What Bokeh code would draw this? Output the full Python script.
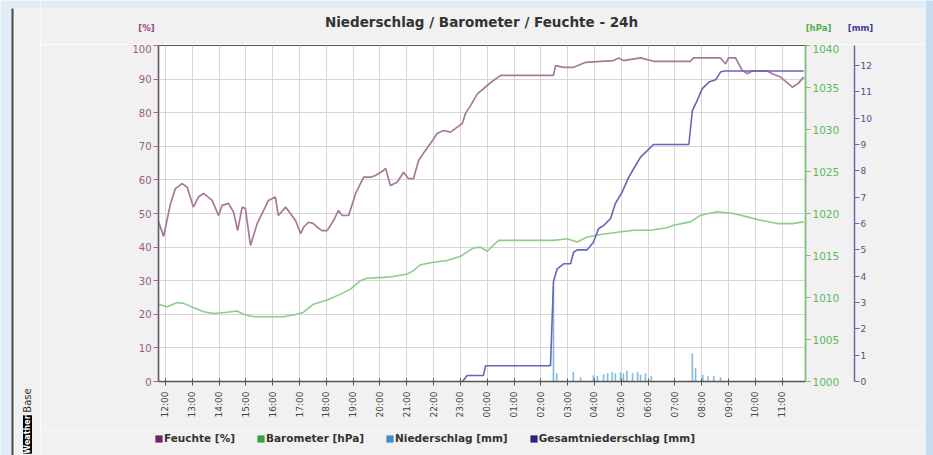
import math
from bokeh.plotting import figure
from bokeh.layouts import row, column
from bokeh.models import (Range1d, LinearAxis, FixedTicker, Label, Legend,
                          LegendItem, BoxAnnotation)
from bokeh.embed import file_html
from bokeh.resources import INLINE

# ---------------- data (x in hours after 12:00 of day 1) ----------------
hour_labels = ["12:00", "13:00", "14:00", "15:00", "16:00", "17:00", "18:00",
               "19:00", "20:00", "21:00", "22:00", "23:00", "00:00", "01:00",
               "02:00", "03:00", "04:00", "05:00", "06:00", "07:00", "08:00",
               "09:00", "10:00", "11:00"]
hour_ticks = list(range(24))

feuchte_t = [-0.26, -0.07, 0.19, 0.37, 0.62, 0.81, 1.04, 1.23, 1.42, 1.74,
             1.98, 2.11, 2.35, 2.54, 2.69, 2.86, 2.98, 3.17, 3.42, 3.66,
             3.84, 4.10, 4.21, 4.48, 4.66, 4.85, 5.04, 5.15, 5.33, 5.52,
             5.66, 5.84, 6.03, 6.27, 6.45, 6.59, 6.83, 7.09, 7.39, 7.65,
             7.83, 8.13, 8.21, 8.39, 8.64, 8.88, 9.06, 9.25, 9.44, 9.62,
             9.88, 10.13, 10.37, 10.63, 10.88, 11.07, 11.19, 11.38, 11.63, 12.00,
             12.23, 12.50, 14.47, 14.55, 14.85, 15.22, 15.67, 16.71, 16.90, 17.08,
             17.72, 18.20, 19.58, 19.69, 20.70, 20.89, 21.00, 21.26, 21.51, 21.70,
             21.88, 22.44, 22.63, 22.94, 23.38, 23.61, 23.80]
feuchte_v = [47.5, 43.2, 53.0, 57.4, 58.9, 57.8, 51.9, 54.9, 56.0, 53.9,
             49.4, 52.4, 53.0, 50.4, 44.9, 51.9, 51.5, 40.5, 47.0, 50.9,
             53.9, 54.9, 49.4, 51.9, 50.0, 47.9, 44.0, 45.9, 47.4, 47.0,
             45.9, 44.9, 44.9, 47.9, 50.9, 49.4, 49.4, 55.9, 60.8, 60.8,
             61.3, 62.8, 63.4, 58.3, 59.3, 62.3, 60.4, 60.4, 65.8, 67.9,
             70.8, 73.8, 74.7, 74.2, 75.7, 76.8, 79.8, 82.1, 85.6, 88.1,
             89.6, 91.1, 91.1, 94.0, 93.5, 93.5, 95.0, 95.5, 96.3, 95.5,
             96.3, 95.3, 95.3, 96.3, 96.3, 94.5, 96.3, 96.3, 92.6, 91.6,
             92.4, 92.4, 91.6, 90.6, 87.6, 88.8, 90.6]

baro_t = [-0.26, 0.06, 0.44, 0.67, 1.04, 1.42, 1.79, 2.30, 2.67, 2.91,
          3.28, 4.40, 4.91, 5.15, 5.52, 6.03, 6.53, 6.90, 7.27, 7.52,
          8.13, 8.50, 9.02, 9.25, 9.51, 10.00, 10.51, 11.00, 11.49, 11.75,
          12.00, 12.42, 14.47, 14.98, 15.35, 15.73, 16.23, 16.71, 17.46, 18.09,
          18.71, 18.95, 19.58, 19.96, 20.58, 21.19, 21.70, 22.19, 22.82, 23.42,
          23.80]
baro_v = [1009.2, 1008.9, 1009.4, 1009.3, 1008.8, 1008.3, 1008.1, 1008.25, 1008.4, 1008.0,
          1007.7, 1007.7, 1008.0, 1008.25, 1009.2, 1009.7, 1010.4, 1011.0, 1012.0, 1012.3,
          1012.4, 1012.5, 1012.8, 1013.2, 1013.9, 1014.2, 1014.4, 1014.9, 1015.9, 1016.0,
          1015.5, 1016.8, 1016.8, 1017.0, 1016.6, 1017.2, 1017.5, 1017.7, 1018.0, 1018.0,
          1018.3, 1018.6, 1019.0, 1019.8, 1020.2, 1020.0, 1019.6, 1019.2, 1018.8, 1018.8,
          1019.0]

nied_t = [14.47, 14.59, 15.21, 15.48, 15.96, 16.11, 16.34, 16.49, 16.66, 16.78,
          16.97, 17.08, 17.21, 17.42, 17.61, 17.72, 17.90, 18.12, 19.65, 19.77,
          20.04, 20.23, 20.45, 20.70]
nied_v = [3.6, 0.3, 0.35, 0.15, 0.23, 0.2, 0.26, 0.3, 0.35, 0.3,
          0.35, 0.3, 0.4, 0.3, 0.35, 0.25, 0.3, 0.2, 1.06, 0.5,
          0.25, 0.2, 0.2, 0.15]

gesamt_t = [11.08, 11.25, 11.86, 11.94, 14.36, 14.47, 14.61, 14.85, 15.11, 15.22,
            15.36, 15.73, 15.96, 16.15, 16.34, 16.60, 16.78, 17.03, 17.28, 17.46,
            17.72, 17.97, 18.20, 19.52, 19.65, 19.83, 20.02, 20.27, 20.52, 20.70,
            20.83, 23.80]
gesamt_v = [0.0, 0.23, 0.23, 0.6, 0.6, 3.8, 4.28, 4.47, 4.47, 4.91,
            5.0, 5.0, 5.29, 5.8, 5.92, 6.19, 6.76, 7.19, 7.76, 8.08,
            8.52, 8.77, 9.0, 9.0, 10.29, 10.67, 11.12, 11.37, 11.46, 11.75,
            11.79, 11.79]

pct_ticks = list(range(0, 101, 10))
hpa_ticks = list(range(1000, 1041, 5))
mm_ticks = list(range(0, 13))

legend_labels = ["Feuchte [%]", "Barometer [hPa]", "Niederschlag [mm]",
                 "Gesamtniederschlag [mm]"]
legend_colors = ["#6e2466", "#3f9f3f", "#3d8dcc", "#26267f"]

title_text = "Niederschlag / Barometer / Feuchte - 24h"
unit_texts = ["[%]", "[hPa]", "[mm]"]

# ---------------- styling ----------------
FONT = "DejaVu Sans"
BG = "#f1f1f1"
EDGE = "#e2ecf6"
C_FEU = "#a8789a"
C_BAR = "#8ccc8c"
C_NIE = "#80b8e0"
C_GES = "#6666b8"


def blank(width, height, xr, yr, bg=BG):
    f = figure(width=width, height=height, output_backend="svg",
               toolbar_location=None, x_axis_type=None, y_axis_type=None,
               x_range=Range1d(*xr), y_range=Range1d(*yr), min_border=0,
               title=None)
    f.outline_line_color = None
    f.background_fill_color = bg
    f.border_fill_color = bg
    return f


# ---- left strip (page edge, "Base" logo) ----
strip = blank(40, 455, (0, 40), (455, 0))
strip.add_layout(BoxAnnotation(left=0, right=11, fill_color=EDGE,
                               fill_alpha=1, line_color=None))
strip.add_layout(BoxAnnotation(top=0, bottom=7, fill_color=EDGE,
                               fill_alpha=1, line_color=None))
strip.add_layout(BoxAnnotation(left=11, right=13, top=8, bottom=455,
                               fill_color="#4a4a4a", fill_alpha=1,
                               line_color=None))
strip.add_layout(Label(x=27, y=400, text="Base", angle=math.pi / 2,
                       text_align="center", text_baseline="middle",
                       text_font=FONT, text_font_size="10px",
                       text_color="#333333"))
strip.add_layout(Label(x=27, y=434, text="Weather", angle=math.pi / 2,
                       text_align="center", text_baseline="middle",
                       text_font=FONT, text_font_size="8px",
                       text_font_style="bold", text_color="white",
                       background_fill_color="black", background_fill_alpha=1))

# ---- right strip (page edge) ----
rstrip = blank(8, 455, (0, 8), (455, 0), bg="#c8dcf0")

# ---- header: title and axis units ----
header = blank(885, 44, (40, 925), (44, 0))
header.add_layout(BoxAnnotation(top=0, bottom=7, fill_color=EDGE,
                                fill_alpha=1, line_color=None))
header.add_layout(Label(x=481, y=21, text=title_text, text_align="center",
                        text_baseline="middle", text_font=FONT,
                        text_font_style="bold", text_font_size="13.5px",
                        text_color="#333333"))
for txt, xx, col in zip(unit_texts, [146, 818, 860],
                        ["#a0407a", "#4fae4f", "#3c3c9c"]):
    header.add_layout(Label(x=xx, y=27, text=txt, text_align="center",
                            text_baseline="middle", text_font=FONT,
                            text_font_style="bold", text_font_size="8.5px",
                            text_color=col))

# ---- main chart ----
p = figure(width=885, height=386, output_backend="svg", toolbar_location=None,
           x_range=Range1d(-0.26, 23.87), y_range=Range1d(0, 100),
           min_border_left=118, min_border_right=120,
           min_border_top=1, min_border_bottom=49, title=None)
p.border_fill_color = BG
p.background_fill_color = "white"
p.outline_line_color = "#555555"
p.outline_line_width = 1.2

p.extra_y_ranges = {"hpa": Range1d(1000, 1040), "mm": Range1d(0, 12.76)}

p.xgrid.ticker = FixedTicker(ticks=hour_ticks)
p.ygrid.ticker = FixedTicker(ticks=pct_ticks)
p.xgrid.grid_line_color = "#d6d6d6"
p.ygrid.grid_line_color = "#d6d6d6"

xa = p.xaxis[0]
xa.ticker = FixedTicker(ticks=hour_ticks)
xa.major_label_overrides = {t: lab for t, lab in zip(hour_ticks, hour_labels)}
xa.major_label_orientation = math.pi / 2
xa.major_label_text_font = FONT
xa.major_label_text_font_size = "9px"
xa.major_label_text_color = "#444444"
xa.axis_line_color = "#555555"
xa.axis_line_width = 1.5
xa.major_tick_line_color = "#555555"
xa.major_tick_in = 3
xa.major_tick_out = 4
xa.minor_tick_line_color = None
xa.major_label_standoff = 6

ya = p.yaxis[0]
ya.ticker = FixedTicker(ticks=pct_ticks)
ya.major_label_text_font = FONT
ya.major_label_text_font_size = "10px"
ya.major_label_text_color = "#9a5a88"
ya.axis_line_color = "#6a5a66"
ya.axis_line_width = 1.5
ya.major_tick_line_color = "#a06a90"
ya.major_tick_in = 0
ya.major_tick_out = 5
ya.minor_tick_line_color = None
ya.major_label_standoff = 2

ax_hpa = LinearAxis(y_range_name="hpa", ticker=FixedTicker(ticks=hpa_ticks),
                    axis_label=" ", axis_label_standoff=0,
                    axis_label_text_font_size="8px")
ax_hpa.major_label_text_font = FONT
ax_hpa.major_label_text_font_size = "10.5px"
ax_hpa.major_label_text_color = "#5cb85c"
ax_hpa.axis_line_color = "#7cc07c"
ax_hpa.axis_line_width = 1.5
ax_hpa.major_tick_line_color = "#7cc07c"
ax_hpa.major_tick_in = 0
ax_hpa.major_tick_out = 5
ax_hpa.minor_tick_line_color = None
ax_hpa.major_label_standoff = 2
p.add_layout(ax_hpa, "right")

ax_mm = LinearAxis(y_range_name="mm", ticker=FixedTicker(ticks=mm_ticks))
ax_mm.major_label_text_font = FONT
ax_mm.major_label_text_font_size = "9px"
ax_mm.major_label_text_color = "#505088"
ax_mm.axis_line_color = "#6a6aaa"
ax_mm.axis_line_width = 1.5
ax_mm.major_tick_line_color = "#6a6aaa"
ax_mm.major_tick_in = 0
ax_mm.major_tick_out = 5
ax_mm.minor_tick_line_color = None
ax_mm.major_label_standoff = 1
p.add_layout(ax_mm, "right")

p.line(feuchte_t, feuchte_v, line_color=C_FEU, line_width=1.7)
p.line(baro_t, baro_v, y_range_name="hpa", line_color=C_BAR, line_width=1.6)
p.vbar(x=nied_t, top=nied_v, bottom=0, width=0.04, y_range_name="mm",
       fill_color=C_NIE, line_color=C_NIE, line_width=0.5)
p.line(gesamt_t, gesamt_v, y_range_name="mm", line_color=C_GES, line_width=1.6)

# ---- footer: legend (hidden one-row proxies give the colour swatches) ----
footer = blank(885, 25, (40, 925), (455, 430))
items = []
for lab, col in zip(legend_labels, legend_colors):
    r = footer.quad(left=[0], right=[1], top=[1], bottom=[0], fill_color=col,
                    line_color=None, visible=False)
    items.append(LegendItem(label=lab, renderers=[r]))
legend = Legend(items=items, orientation="horizontal", location=(114, 11),
                background_fill_alpha=0, border_line_color=None,
                label_text_font=FONT, label_text_font_style="bold",
                label_text_font_size="10.5px", label_text_color="#333333",
                glyph_width=9, glyph_height=9, label_standoff=1, spacing=21,
                padding=1, margin=0, label_height=12, click_policy="none")
footer.add_layout(legend)

layout = row(strip, column(header, column(p), footer), rstrip)

open("out.html", "w").write(file_html(layout, INLINE))
